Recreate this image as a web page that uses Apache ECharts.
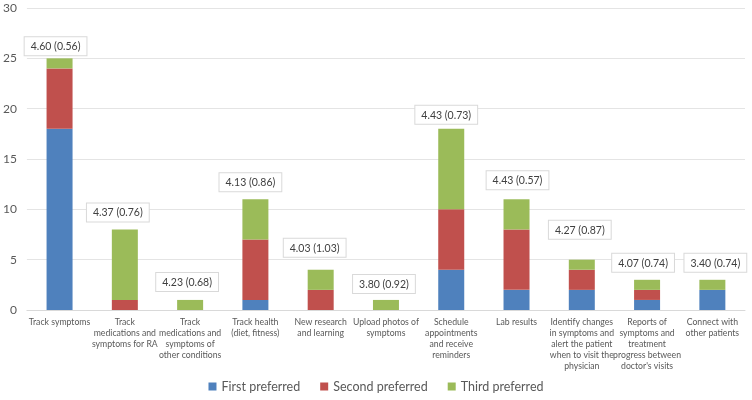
<!DOCTYPE html>
<html>
<head>
<meta charset="utf-8">
<script src="https://cdn.jsdelivr.net/npm/echarts@6/dist/echarts.min.js"></script>
<style>
html,body{margin:0;padding:0;background:#fff;}
#chart{width:752px;height:400px;}
</style>
</head>
<body>
<div id="chart"></div>
<script>
// ---- data ----
var categories = [
  "Track symptoms",
  "Track\nmedications and\nsymptoms for RA",
  "Track\nmedications and\nsymptoms of\nother conditions",
  "Track health\n(diet, fitness)",
  "New research\nand learning",
  "Upload photos of\nsymptoms",
  "Schedule\nappointments\nand receive\nreminders",
  "Lab results",
  "Identify changes\nin symptoms and\nalert the patient\nwhen to visit the\nphysician",
  "Reports of\nsymptoms and\ntreatment\nprogress between\ndoctor's visits",
  "Connect with\nother patients"
];
var seriesNames = ["First preferred", "Second preferred", "Third preferred"];
var firstPreferred  = [18, 0, 0, 1, 0, 0, 4, 2, 2, 1, 2];
var secondPreferred = [6, 1, 0, 6, 2, 0, 6, 6, 2, 1, 0];
var thirdPreferred  = [1, 7, 1, 4, 2, 1, 8, 3, 1, 1, 1];
var meanSdLabels = ["4.60 (0.56)", "4.37 (0.76)", "4.23 (0.68)", "4.13 (0.86)", "4.03 (1.03)",
  "3.80 (0.92)", "4.43 (0.73)", "4.43 (0.57)", "4.27 (0.87)", "4.07 (0.74)", "3.40 (0.74)"];
var yTicks = { min: 0, max: 30, interval: 5 };

// ---- layout (annotation nudges, px) ----
var labelNudge = [[-4, 2], [-7, -3], [-3, -4], [-5, -3], [-6, -8], [-2, -2],
  [-5, 0], [1, -5], [-2, -16], [-4, -3], [3, -3]];

var colors = ["#4f81bd", "#c0504d", "#9bbb59"];
var font = "Lato, 'Open Sans', sans-serif";

function mk(name, vals, idx) {
  var s = {
    name: name, type: 'bar', stack: 'total', barWidth: 26,
    itemStyle: { color: colors[idx] },
    data: vals.map(function (v, i) {
      var d = { value: v };
      if (idx === 2) {
        d.label = {
          show: true, position: 'top', distance: 5,
          offset: labelNudge[i],
          formatter: meanSdLabels[i]
        };
      }
      return d;
    })
  };
  if (idx === 2) {
    s.label = {
      color: '#404040', fontSize: 10.5, fontFamily: font,
      backgroundColor: '#ffffff', borderColor: '#d9d9d9', borderWidth: 1,
      padding: [4, 6, 3, 6]
    };
  }
  return s;
}

var chart = echarts.init(document.getElementById('chart'), null, { renderer: 'canvas' });
chart.setOption({
  animation: false,
  backgroundColor: '#ffffff',
  grid: { left: 25, right: 7, top: 8, bottom: 90, containLabel: false },
  legend: {
    bottom: 2, left: 'center', itemWidth: 8, itemHeight: 8, itemGap: 20,
    icon: 'rect',
    textStyle: { color: '#595959', fontSize: 12.5, fontFamily: font },
    data: seriesNames
  },
  xAxis: {
    type: 'category', data: categories,
    axisLine: { lineStyle: { color: '#d9d9d9' } },
    axisTick: { show: false },
    axisLabel: { interval: 0, color: '#595959', fontSize: 8.7, fontFamily: font, lineHeight: 11, margin: 7 }
  },
  yAxis: {
    type: 'value', min: yTicks.min, max: yTicks.max, interval: yTicks.interval,
    axisLine: { show: false }, axisTick: { show: false },
    axisLabel: { color: '#595959', fontSize: 12, fontFamily: font, margin: 10 },
    splitLine: { lineStyle: { color: '#e4e4e4' } }
  },
  series: [
    mk(seriesNames[0], firstPreferred, 0),
    mk(seriesNames[1], secondPreferred, 1),
    mk(seriesNames[2], thirdPreferred, 2)
  ]
});
</script>
</body>
</html>
